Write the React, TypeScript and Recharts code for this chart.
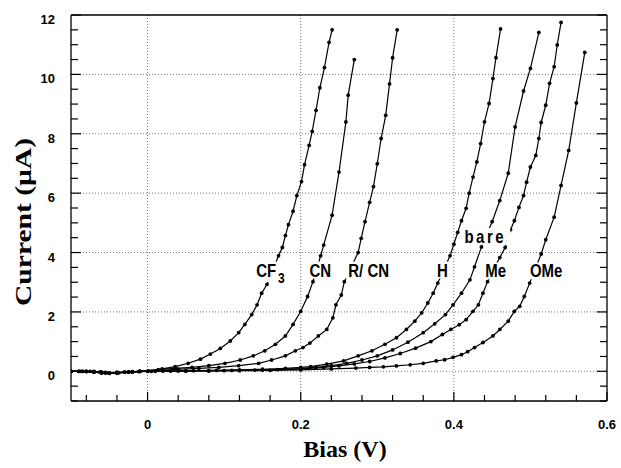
import { CartesianGrid, Line, LineChart, ReferenceDot, XAxis, YAxis } from "recharts";

type Pt = { v: number; i: number };

// bias (V) vs current (uA)
const cf3: Pt[] = [
  { v: -0.1, i: 0 }, { v: -0.088, i: 0 }, { v: -0.075, i: 0 }, { v: -0.062, i: -0.02 },
  { v: -0.05, i: -0.06 }, { v: -0.038, i: -0.05 }, { v: -0.025, i: -0.03 }, { v: -0.012, i: -0.01 },
  { v: 0.001, i: 0.01 }, { v: 0.019, i: 0.08 }, { v: 0.036, i: 0.16 }, { v: 0.053, i: 0.27 },
  { v: 0.069, i: 0.41 }, { v: 0.082, i: 0.58 }, { v: 0.095, i: 0.77 }, { v: 0.108, i: 1.02 },
  { v: 0.119, i: 1.3 }, { v: 0.127, i: 1.58 }, { v: 0.136, i: 1.91 }, { v: 0.143, i: 2.24 },
  { v: 0.149, i: 2.63 }, { v: 0.156, i: 2.93 }, { v: 0.171, i: 3.89 }, { v: 0.176, i: 4.17 },
  { v: 0.18, i: 4.57 }, { v: 0.184, i: 4.94 }, { v: 0.19, i: 5.39 }, { v: 0.195, i: 5.92 },
  { v: 0.201, i: 6.39 }, { v: 0.205, i: 6.96 }, { v: 0.211, i: 7.61 }, { v: 0.215, i: 8.08 },
  { v: 0.22, i: 8.79 }, { v: 0.225, i: 9.55 }, { v: 0.231, i: 10.23 }, { v: 0.237, i: 11.08 },
  { v: 0.241, i: 11.5 },
];

const cn: Pt[] = [
  { v: -0.1, i: 0 }, { v: -0.085, i: 0 }, { v: -0.07, i: 0 }, { v: -0.055, i: -0.04 },
  { v: -0.04, i: -0.05 }, { v: -0.025, i: -0.02 }, { v: -0.01, i: 0 }, { v: 0.014, i: 0.06 },
  { v: 0.036, i: 0.1 }, { v: 0.058, i: 0.13 }, { v: 0.08, i: 0.19 }, { v: 0.101, i: 0.27 },
  { v: 0.121, i: 0.38 }, { v: 0.138, i: 0.52 }, { v: 0.153, i: 0.69 }, { v: 0.167, i: 0.91 },
  { v: 0.18, i: 1.19 }, { v: 0.19, i: 1.58 }, { v: 0.2, i: 2.02 }, { v: 0.209, i: 2.52 },
  { v: 0.216, i: 3.02 }, { v: 0.226, i: 3.89 }, { v: 0.23, i: 4.25 }, { v: 0.241, i: 5.26 },
  { v: 0.25, i: 6.71 }, { v: 0.259, i: 8.4 }, { v: 0.262, i: 9.3 }, { v: 0.27, i: 10.5 },
];

const rcn: Pt[] = [
  { v: -0.1, i: 0 }, { v: -0.09, i: 0 }, { v: -0.08, i: 0 }, { v: -0.07, i: -0.02 },
  { v: -0.06, i: -0.05 }, { v: -0.05, i: -0.06 }, { v: -0.04, i: -0.05 }, { v: -0.03, i: -0.03 },
  { v: -0.02, i: -0.02 }, { v: -0.01, i: 0 }, { v: 0.014, i: 0.03 }, { v: 0.04, i: 0.07 },
  { v: 0.067, i: 0.1 }, { v: 0.093, i: 0.13 }, { v: 0.119, i: 0.19 }, { v: 0.145, i: 0.27 },
  { v: 0.162, i: 0.38 }, { v: 0.18, i: 0.52 }, { v: 0.193, i: 0.69 }, { v: 0.203, i: 0.8 },
  { v: 0.212, i: 0.95 }, { v: 0.223, i: 1.19 }, { v: 0.234, i: 1.41 }, { v: 0.242, i: 1.8 },
  { v: 0.246, i: 2.24 }, { v: 0.253, i: 2.57 }, { v: 0.257, i: 3.02 }, { v: 0.275, i: 4.0 },
  { v: 0.279, i: 4.48 }, { v: 0.284, i: 5.04 }, { v: 0.29, i: 5.69 }, { v: 0.295, i: 6.22 },
  { v: 0.3, i: 6.99 }, { v: 0.305, i: 7.84 }, { v: 0.311, i: 8.62 }, { v: 0.316, i: 9.68 },
  { v: 0.32, i: 10.56 }, { v: 0.326, i: 11.5 },
];

const h: Pt[] = [
  { v: -0.1, i: 0 }, { v: -0.08, i: 0 }, { v: -0.06, i: -0.03 }, { v: -0.04, i: -0.04 },
  { v: -0.02, i: -0.01 }, { v: 0, i: 0 }, { v: 0.03, i: 0.01 }, { v: 0.06, i: 0.02 },
  { v: 0.09, i: 0.03 }, { v: 0.12, i: 0.05 }, { v: 0.15, i: 0.07 }, { v: 0.18, i: 0.1 },
  { v: 0.2, i: 0.13 }, { v: 0.213, i: 0.16 }, { v: 0.234, i: 0.24 }, { v: 0.256, i: 0.35 },
  { v: 0.275, i: 0.52 }, { v: 0.293, i: 0.69 }, { v: 0.31, i: 0.91 }, { v: 0.325, i: 1.13 },
  { v: 0.338, i: 1.41 }, { v: 0.349, i: 1.69 }, { v: 0.358, i: 1.97 }, { v: 0.366, i: 2.3 },
  { v: 0.373, i: 2.63 }, { v: 0.379, i: 2.97 }, { v: 0.395, i: 3.89 }, { v: 0.4, i: 4.28 },
  { v: 0.405, i: 4.68 }, { v: 0.41, i: 5.07 }, { v: 0.416, i: 5.49 }, { v: 0.42, i: 6.0 },
  { v: 0.425, i: 6.54 }, { v: 0.43, i: 7.05 }, { v: 0.435, i: 7.67 }, { v: 0.44, i: 8.4 },
  { v: 0.446, i: 9.02 }, { v: 0.451, i: 9.86 }, { v: 0.455, i: 10.56 }, { v: 0.461, i: 11.53 },
];

const bare: Pt[] = [
  { v: -0.1, i: 0 }, { v: -0.085, i: 0 }, { v: -0.07, i: -0.02 }, { v: -0.055, i: -0.06 },
  { v: -0.04, i: -0.05 }, { v: -0.025, i: -0.03 }, { v: -0.01, i: 0 }, { v: 0.02, i: 0.01 },
  { v: 0.05, i: 0.01 }, { v: 0.08, i: 0.02 }, { v: 0.11, i: 0.03 }, { v: 0.14, i: 0.04 },
  { v: 0.17, i: 0.06 }, { v: 0.2, i: 0.09 }, { v: 0.22, i: 0.13 }, { v: 0.24, i: 0.19 },
  { v: 0.26, i: 0.27 }, { v: 0.28, i: 0.38 }, { v: 0.3, i: 0.52 }, { v: 0.32, i: 0.72 },
  { v: 0.34, i: 0.98 }, { v: 0.36, i: 1.3 }, { v: 0.375, i: 1.6 }, { v: 0.389, i: 1.91 },
  { v: 0.399, i: 2.24 }, { v: 0.41, i: 2.63 }, { v: 0.421, i: 3.08 }, { v: 0.427, i: 3.52 },
  { v: 0.436, i: 4.19 }, { v: 0.45, i: 5.04 }, { v: 0.46, i: 5.75 }, { v: 0.471, i: 6.67 },
  { v: 0.48, i: 8.23 }, { v: 0.491, i: 9.44 }, { v: 0.5, i: 10.2 }, { v: 0.511, i: 11.41 },
];

const me: Pt[] = [
  { v: -0.1, i: 0 }, { v: -0.09, i: 0 }, { v: -0.08, i: -0.01 }, { v: -0.07, i: -0.03 },
  { v: -0.06, i: -0.06 }, { v: -0.05, i: -0.07 }, { v: -0.04, i: -0.05 }, { v: -0.03, i: -0.03 },
  { v: -0.02, i: -0.02 }, { v: -0.01, i: 0 }, { v: 0.01, i: 0 }, { v: 0.05, i: 0.01 },
  { v: 0.1, i: 0.02 }, { v: 0.15, i: 0.04 }, { v: 0.2, i: 0.08 }, { v: 0.23, i: 0.13 },
  { v: 0.25, i: 0.18 }, { v: 0.27, i: 0.25 }, { v: 0.29, i: 0.33 }, { v: 0.31, i: 0.45 },
  { v: 0.33, i: 0.6 }, { v: 0.35, i: 0.78 }, { v: 0.37, i: 1.0 }, { v: 0.385, i: 1.24 },
  { v: 0.396, i: 1.41 }, { v: 0.407, i: 1.57 }, { v: 0.416, i: 1.74 }, { v: 0.425, i: 2.02 },
  { v: 0.432, i: 2.24 }, { v: 0.438, i: 2.63 }, { v: 0.444, i: 3.02 }, { v: 0.46, i: 3.83 },
  { v: 0.467, i: 4.17 }, { v: 0.474, i: 4.77 }, { v: 0.479, i: 5.07 }, { v: 0.485, i: 5.52 },
  { v: 0.491, i: 5.92 }, { v: 0.495, i: 6.37 }, { v: 0.5, i: 6.88 }, { v: 0.507, i: 7.27 },
  { v: 0.511, i: 7.84 }, { v: 0.514, i: 8.38 }, { v: 0.52, i: 8.96 }, { v: 0.525, i: 9.7 },
  { v: 0.531, i: 10.26 }, { v: 0.535, i: 10.99 }, { v: 0.54, i: 11.75 },
];

const ome: Pt[] = [
  { v: -0.1, i: 0 }, { v: -0.08, i: 0 }, { v: -0.06, i: -0.04 }, { v: -0.04, i: -0.04 },
  { v: -0.02, i: -0.01 }, { v: 0.005, i: 0 }, { v: 0.04, i: 0.01 }, { v: 0.08, i: 0.01 },
  { v: 0.12, i: 0.02 }, { v: 0.16, i: 0.03 }, { v: 0.2, i: 0.05 }, { v: 0.24, i: 0.08 },
  { v: 0.272, i: 0.11 }, { v: 0.29, i: 0.13 }, { v: 0.308, i: 0.15 }, { v: 0.325, i: 0.18 },
  { v: 0.343, i: 0.22 }, { v: 0.36, i: 0.27 }, { v: 0.377, i: 0.35 }, { v: 0.388, i: 0.39 },
  { v: 0.399, i: 0.47 }, { v: 0.41, i: 0.56 }, { v: 0.418, i: 0.66 }, { v: 0.427, i: 0.8 },
  { v: 0.438, i: 0.97 }, { v: 0.451, i: 1.19 }, { v: 0.46, i: 1.41 }, { v: 0.471, i: 1.69 },
  { v: 0.479, i: 2.02 }, { v: 0.486, i: 2.19 }, { v: 0.492, i: 2.52 }, { v: 0.499, i: 2.97 },
  { v: 0.514, i: 3.95 }, { v: 0.52, i: 4.43 }, { v: 0.531, i: 5.19 }, { v: 0.54, i: 6.26 },
  { v: 0.55, i: 7.44 }, { v: 0.56, i: 9.04 }, { v: 0.571, i: 10.74 },
];

const curves = [cf3, cn, rcn, h, bare, me, ome];

// curve tags sit on the lines, with a white patch under them
const tags = [
  { text: "CF3", v: 0.1605, i: 3.41 },
  { text: "CN", v: 0.2255, i: 3.41 },
  { text: "R/ CN", v: 0.2887, i: 3.41 },
  { text: "H", v: 0.385, i: 3.41 },
  { text: "bare", v: 0.441, i: 4.54 },
  { text: "Me", v: 0.4545, i: 3.38 },
  { text: "OMe", v: 0.5205, i: 3.38 },
];

const xTicks = [-0.08, -0.04, 0, 0.04, 0.08, 0.12, 0.16, 0.2, 0.24, 0.28, 0.32, 0.36, 0.4, 0.44, 0.48, 0.52, 0.56, 0.6];
const xLabels = [0, 0.2, 0.4, 0.6];
const yTicks = [-1, -0.5, 0, 0.5, 1, 1.5, 2, 2.5, 3, 3.5, 4, 4.5, 5, 5.5, 6, 6.5, 7, 7.5, 8, 8.5, 9, 9.5, 10, 10.5, 11, 11.5, 12];
const yLabels = [0, 2, 4, 6, 8, 10, 12];
const xGrid = [0, 0.2, 0.4];
const yGrid = [0, 2, 4, 6, 8, 10];

const sans = "'Liberation Sans', Arial, Helvetica, sans-serif";
const serif = "'Liberation Serif', 'Times New Roman', serif";
const has = (arr: number[], v: number) => arr.some((a) => Math.abs(a - v) < 1e-9);

function BottomTick(p: any) {
  const v = p.payload.value;
  const major = has(xLabels, v);
  return (
    <g>
      <line x1={p.x} x2={p.x} y1={p.y} y2={p.y - (major ? 9 : 6)} stroke="#000" strokeWidth={1.2} />
      {major && (
        <text x={p.x} y={p.y + 28} textAnchor="middle" fontFamily={sans} fontWeight="bold" fontSize={13} fill="#000">
          {String(v)}
        </text>
      )}
    </g>
  );
}

function TopTick(p: any) {
  const major = has(xLabels, p.payload.value);
  return <line x1={p.x} x2={p.x} y1={p.y} y2={p.y + (major ? 9 : 6)} stroke="#000" strokeWidth={1.2} />;
}

function LeftTick(p: any) {
  const v = p.payload.value;
  const major = has(yLabels, v);
  return (
    <g>
      <line x1={p.x} x2={p.x + (major ? 10 : 7)} y1={p.y} y2={p.y} stroke="#000" strokeWidth={1.2} />
      {major && (
        <text x={p.x - 16} y={p.y + 9} textAnchor="end" fontFamily={sans} fontWeight="bold" fontSize={13} fill="#000">
          {String(v)}
        </text>
      )}
    </g>
  );
}

function RightTick(p: any) {
  const major = has(yLabels, p.payload.value);
  return <line x1={p.x} x2={p.x - (major ? 10 : 7)} y1={p.y} y2={p.y} stroke="#000" strokeWidth={1.2} />;
}

function CurveTag({ viewBox, text }: any) {
  const cx = viewBox.x + viewBox.width / 2;
  const cy = viewBox.y + viewBox.height / 2;
  const fs = 15;
  const spacing = text === "bare" ? 2.5 : 0;
  const w = text.length * fs * 0.6 + text.length * spacing;
  const sub = text === "CF3";
  return (
    <g transform={`translate(${cx},${cy}) scale(1,1.2)`}>
      <rect x={-w / 2 - 2} y={-7} width={w + 4} height={sub ? 17 : 14} fill="#fff" />
      <text
        x={0}
        y={5.4}
        textAnchor="middle"
        fontFamily={sans}
        fontWeight="bold"
        fontSize={fs}
        letterSpacing={spacing}
        fill="#000"
      >
        {sub ? (
          <>
            CF<tspan fontSize={12} dx={2} dy={5}>3</tspan>
          </>
        ) : (
          text
        )}
      </text>
    </g>
  );
}

export default function App() {
  return (
    <div style={{ position: "absolute", left: 0, top: 0, width: 621, height: 468, background: "#fff" }}>
      <LineChart width={621} height={468} margin={{ top: 14, right: 13, bottom: 0, left: 0 }}>
        <CartesianGrid
          horizontalValues={yGrid}
          verticalValues={xGrid}
          stroke="#777"
          strokeDasharray="1 2"
        />
        <XAxis
          dataKey="v"
          type="number"
          domain={[-0.1, 0.6]}
          allowDataOverflow
          ticks={xTicks}
          interval={0}
          height={67}
          tickSize={0}
          tickMargin={0}
          tickLine={false}
          tick={BottomTick}
          axisLine={{ stroke: "#000", strokeWidth: 1.3 }}
        />
        <XAxis
          xAxisId="top"
          orientation="top"
          type="number"
          domain={[-0.1, 0.6]}
          allowDataOverflow
          ticks={xTicks}
          interval={0}
          height={1}
          tickSize={0}
          tickMargin={0}
          tickLine={false}
          tick={TopTick}
          axisLine={{ stroke: "#000", strokeWidth: 1.3 }}
        />
        <YAxis
          type="number"
          domain={[-1, 12]}
          allowDataOverflow
          ticks={yTicks}
          interval={0}
          width={71}
          tickSize={0}
          tickMargin={0}
          tickLine={false}
          tick={LeftTick}
          axisLine={{ stroke: "#000", strokeWidth: 1.3 }}
        />
        <YAxis
          yAxisId="right"
          orientation="right"
          type="number"
          domain={[-1, 12]}
          allowDataOverflow
          ticks={yTicks}
          interval={0}
          width={1}
          tickSize={0}
          tickMargin={0}
          tickLine={false}
          tick={RightTick}
          axisLine={{ stroke: "#000", strokeWidth: 1.3 }}
        />
        {curves.map((d, k) => (
          <Line
            key={k}
            data={d}
            dataKey="i"
            type="linear"
            stroke="#000"
            strokeWidth={1.2}
            dot={{ r: 1.9, fill: "#000", stroke: "none" }}
            activeDot={false}
            isAnimationActive={false}
          />
        ))}
        {tags.map((t) => (
          <ReferenceDot
            key={t.text}
            x={t.v}
            y={t.i}
            r={0}
            fill="none"
            stroke="none"
            label={<CurveTag text={t.text} />}
          />
        ))}
      </LineChart>
      <svg width={621} height={468} style={{ position: "absolute", left: 0, top: 0, pointerEvents: "none" }}>
        <text
          transform="translate(31,222) rotate(-90)"
          textAnchor="middle"
          fontFamily={serif}
          fontWeight="bold"
          fontSize={24}
          textLength={168}
          lengthAdjust="spacingAndGlyphs"
          fill="#000"
        >
          Current (μA)
        </text>
        <text x={345} y={457} textAnchor="middle" fontFamily={serif} fontWeight="bold" fontSize={24} fill="#000">
          Bias (V)
        </text>
      </svg>
    </div>
  );
}
